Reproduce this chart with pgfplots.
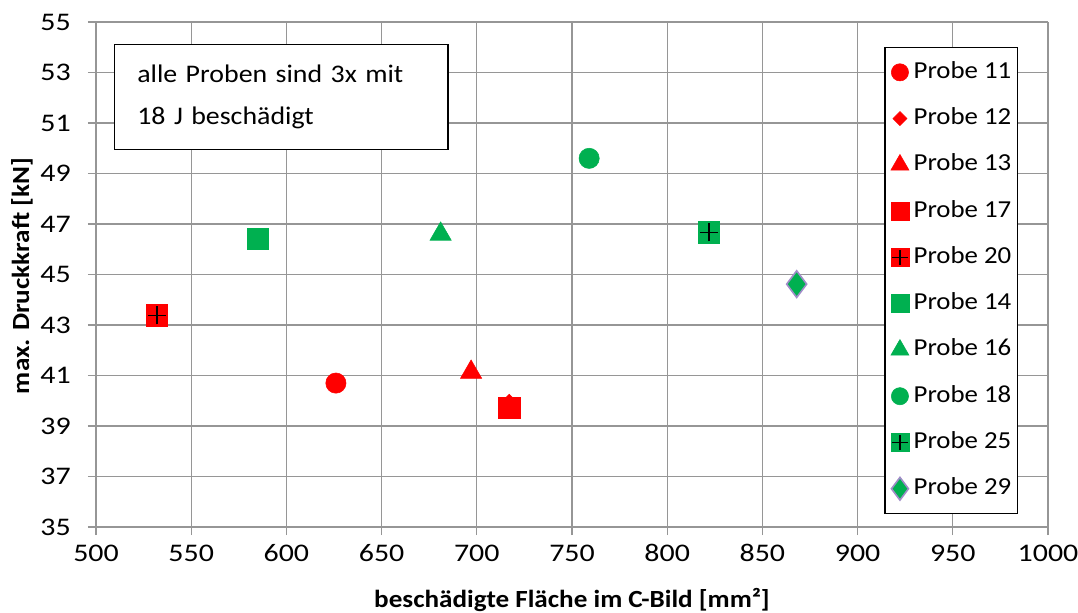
\documentclass[border=0pt]{standalone}
\usepackage{pgfplots}
\pgfplotsset{compat=1.18}
\usepackage{fontspec}
\setmainfont{Carlito}[FakeStretch=1.1]
\newfontfamily\tickfamily{Carlito}[FakeStretch=1.18]

\definecolor{probered}{RGB}{255,0,0}
\definecolor{probegreen}{RGB}{0,176,80}
\definecolor{gridgray}{RGB}{150,150,150}
\definecolor{lilac}{RGB}{160,140,200}

% filled square with a black cross on top
\pgfdeclareplotmark{sqplus}{%
  \pgfpathrectangle{\pgfqpoint{-\pgfplotmarksize}{-\pgfplotmarksize}}%
                   {\pgfqpoint{2\pgfplotmarksize}{2\pgfplotmarksize}}%
  \pgfusepathqfillstroke
  \pgfsetstrokecolor{black}%
  \pgfsetlinewidth{1.2pt}%
  \pgfpathmoveto{\pgfqpoint{-0.85\pgfplotmarksize}{0pt}}%
  \pgfpathlineto{\pgfqpoint{0.85\pgfplotmarksize}{0pt}}%
  \pgfpathmoveto{\pgfqpoint{0pt}{-0.85\pgfplotmarksize}}%
  \pgfpathlineto{\pgfqpoint{0pt}{0.85\pgfplotmarksize}}%
  \pgfusepathqstroke
}

\newcommand{\tickfont}{\tickfamily\fontsize{19}{19}\selectfont}
\newcommand{\legendfont}{\fontsize{18.3}{18.3}\selectfont}
\newcommand{\labelfont}{\fontsize{18.5}{18.5}\selectfont}

\begin{document}
\begin{tikzpicture}
\begin{axis}[
  at={(0pt,0pt)}, anchor=south west,
  scale only axis, width=714pt, height=378.75pt,
  xmin=500, xmax=1000, ymin=35, ymax=55,
  xtick={500,550,...,1000}, ytick={35,37,...,55},
  grid=major,
  major grid style={gridgray, line width=1pt},
  axis x line*=bottom, axis y line*=left,
  axis line style={gridgray, line width=1pt},
  tick align=outside, major tick length=6pt,
  tick style={gridgray, line width=1pt},
  /pgf/number format/assume math mode=true,
  /pgf/number format/1000 sep={},
  ticklabel style={font=\tickfont, text=black},
  yticklabel style={anchor=east, inner sep=0pt, xshift=-12.75pt},
  xticklabel style={anchor=north, inner sep=0pt, yshift=-7pt},
  xlabel={\bfseries beschädigte Fläche im C-Bild [mm²]},
  ylabel={\bfseries max. Druckkraft [kN]},
  label style={font=\labelfont},
  xlabel style={at={(axis description cs:0.5,-0.1446)}, anchor=center},
  ylabel style={at={(axis description cs:-0.0777,0.497)}, anchor=center},
  legend image code/.code={\draw[#1, every mark/.append style={scale=0.85}]
    plot coordinates {(0pt,0pt)};},
  legend style={at={(0.9685,0.9505)}, anchor=north east,
    draw=black, line width=1pt, fill=white,
    font=\legendfont, inner xsep=4.5pt, inner ysep=10pt,
    row sep=17.7pt, column sep=3.5pt,
    nodes={inner sep=0pt, text height=13pt, text depth=4pt},
    cells={anchor=west}},
  legend cell align=left,
  every axis plot/.append style={only marks, mark options={line width=0.4pt}},
]
% Probe 11
\addplot[mark=*, mark size=7.6pt, color=probered] coordinates {(626,40.70)};
\addlegendentry{Probe 11}
% Probe 12 (lies under Probe 17)
\addplot[mark=square*, mark size=4.4pt, color=probered,
  mark options={rotate=45, line width=0.4pt}] coordinates {(717,39.93)};
\addlegendentry{Probe 12}
% Probe 13
\addplot[mark=triangle*, mark size=9.2pt, color=probered] coordinates {(697,41.13)};
\addlegendentry{Probe 13}
% Probe 17
\addplot[mark=square*, mark size=8pt, color=probered] coordinates {(717,39.71)};
\addlegendentry{Probe 17}
% Probe 20
\addplot[mark=sqplus, mark size=8pt, color=probered] coordinates {(532,43.38)};
\addlegendentry{Probe 20}
% Probe 14
\addplot[mark=square*, mark size=8pt, color=probegreen] coordinates {(585,46.42)};
\addlegendentry{Probe 14}
% Probe 16
\addplot[mark=triangle*, mark size=9.2pt, color=probegreen] coordinates {(681,46.60)};
\addlegendentry{Probe 16}
% Probe 18
\addplot[mark=*, mark size=7.6pt, color=probegreen] coordinates {(759,49.60)};
\addlegendentry{Probe 18}
% Probe 25
\addplot[mark=sqplus, mark size=8pt, color=probegreen] coordinates {(822,46.67)};
\addlegendentry{Probe 25}
% Probe 29
\addplot[mark=diamond*, mark size=10pt, draw=lilac, fill=probegreen,
  mark options={line width=1.2pt}] coordinates {(868,44.62)};
\addlegendentry{Probe 29}

\node[draw=black, line width=1pt, fill=white, anchor=north west,
  minimum width=250pt, minimum height=78.75pt,
  text width=216pt, inner xsep=17pt, align=left,
  font=\fontsize{19}{31.5}\selectfont]
  at (axis description cs:0.0189,0.9564)
  {alle Proben sind 3x mit\\18 J beschädigt};
\end{axis}
\pgfresetboundingbox
\useasboundingbox (-72pt,-63.75pt) rectangle (736.5pt,395.25pt);
\end{tikzpicture}
\end{document}
